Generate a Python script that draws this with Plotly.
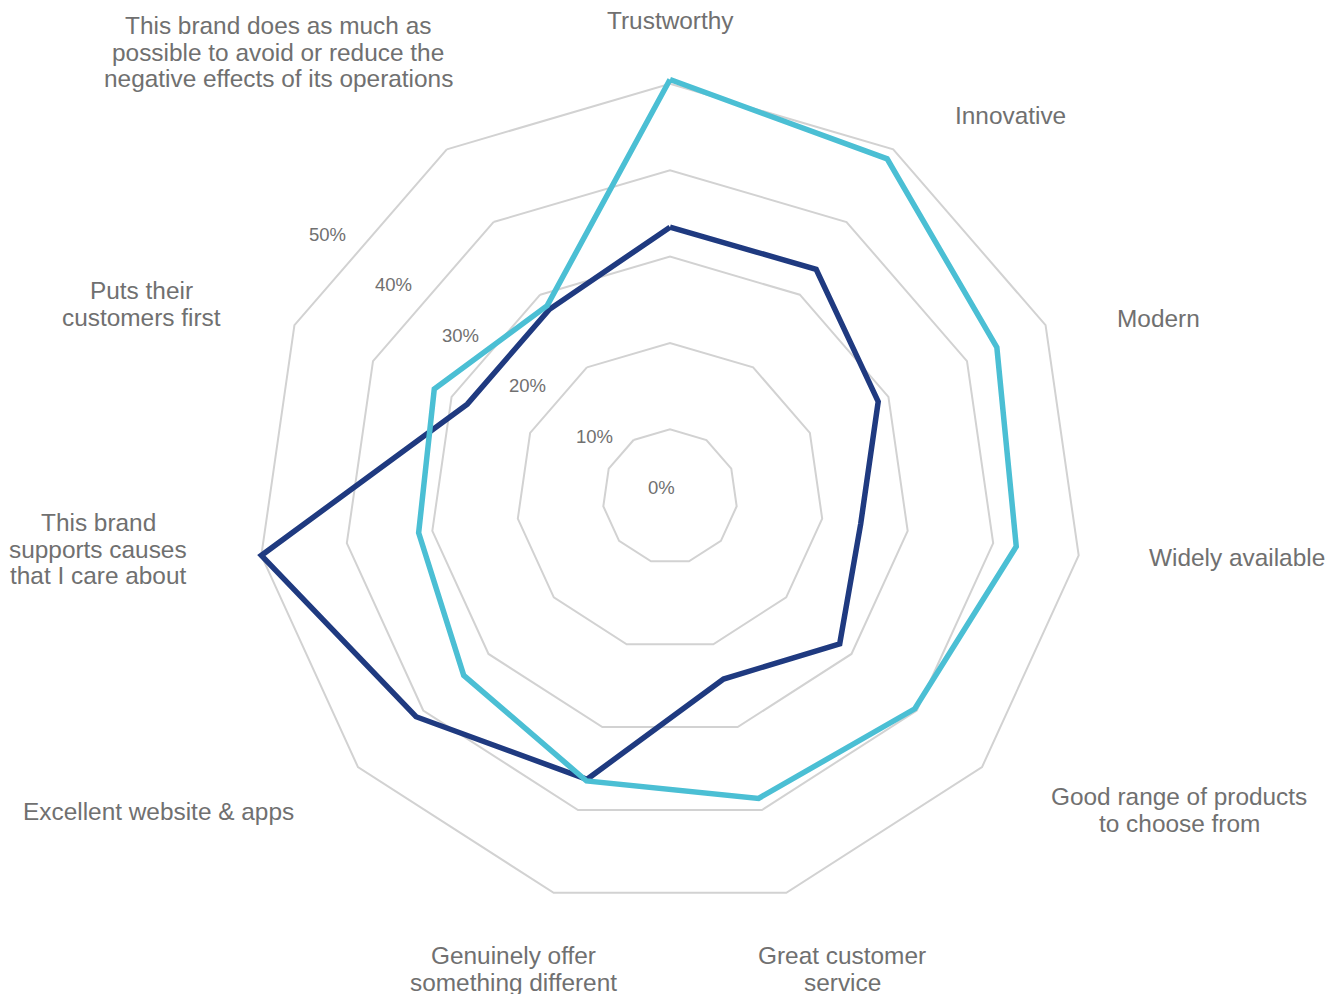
import plotly.graph_objects as go

# Attribute statements, clockwise from the top
categories = [
    "Trustworthy",
    "Innovative",
    "Modern",
    "Widely available",
    "Good range of products<br>to choose from",
    "Great customer<br>service",
    "Genuinely offer<br>something different",
    "Excellent website & apps",
    "This brand<br>supports causes<br>that I care about",
    "Puts their<br>customers first",
    "This brand does as much as<br>possible to avoid or reduce the<br>negative effects of its operations",
]

# Share of respondents agreeing (%)
series_light = [50.5, 48.7, 43.8, 42.7, 39.7, 38.6, 36.5, 33.8, 31.6, 32.2, 28.5]
series_dark = [33.4, 33.5, 28.7, 24.5, 28.2, 24.2, 36.3, 41.1, 50.0, 28.0, 28.0]

radial_ticks = [0, 10, 20, 30, 40, 50]
radial_tick_labels = ["0%", "10%", "20%", "30%", "40%", "50%"]

# ---- layout constants ----
W, H = 1343, 994
CX, CY = 670, 496.7          # chart centre in pixels
R_MIN, R_MAX = 2.2, 51       # radial axis range
PX_PER_UNIT = 8.6375
RADIUS = (R_MAX - R_MIN) * PX_PER_UNIT

LIGHT = "#4bbfd4"
DARK = "#1f3a80"
GRID = "#d2d2d2"
TEXT = "#707070"
FONT = "Liberation Sans, Arial, Helvetica, sans-serif"


def closed(vals):
    return list(vals) + [vals[0]]


fig = go.Figure()
fig.add_trace(go.Scatterpolar(
    r=closed(series_dark), theta=closed(categories), mode="lines",
    line=dict(color=DARK, width=5.5), name="Brand B", hoverinfo="skip",
))
fig.add_trace(go.Scatterpolar(
    r=closed(series_light), theta=closed(categories), mode="lines",
    line=dict(color=LIGHT, width=5.5), name="Brand A", hoverinfo="skip",
))

# Category labels, one annotation per line for tight line spacing
label_pos = [
    (670, 21), (1010, 116), (1158, 318), (1237, 557), (1179, 810),
    (842, 969), (513, 969), (158, 811), (98, 549), (141, 304), (278, 52),
]
LINE_GAP = 26.5
annotations = []
for text, (px, py) in zip(categories, label_pos):
    lines = text.split("<br>")
    n = len(lines)
    for i, line in enumerate(lines):
        y = py + (i - (n - 1) / 2) * LINE_GAP
        annotations.append(dict(
            x=px / W, y=1 - y / H, xref="paper", yref="paper",
            text=line, showarrow=False, xanchor="center", yanchor="middle",
            font=dict(family=FONT, size=24.4, color=TEXT),
        ))

# Radial scale labels laid out along a diagonal from the centre
LBL_X0, LBL_Y0 = 661, 487
LBL_DX, LBL_DY = -6.68, -5.06   # pixels per percentage point
for v, t in zip(radial_ticks, radial_tick_labels):
    annotations.append(dict(
        x=(LBL_X0 + LBL_DX * v) / W, y=1 - (LBL_Y0 + LBL_DY * v) / H,
        xref="paper", yref="paper", text=t, showarrow=False,
        xanchor="center", yanchor="middle",
        font=dict(family=FONT, size=18.5, color=TEXT),
    ))

fig.update_layout(
    width=W, height=H,
    margin=dict(l=0, r=0, t=0, b=0),
    paper_bgcolor="white", plot_bgcolor="white",
    showlegend=False,
    annotations=annotations,
    polar=dict(
        domain=dict(
            x=[(CX - RADIUS) / W, (CX + RADIUS) / W],
            y=[(H - CY - RADIUS) / H, (H - CY + RADIUS) / H],
        ),
        bgcolor="white",
        gridshape="linear",
        radialaxis=dict(
            range=[R_MIN, R_MAX],
            tickvals=radial_ticks[1:],
            showticklabels=False, ticks="",
            showline=False,
            gridcolor=GRID, gridwidth=1.6,
        ),
        angularaxis=dict(
            direction="clockwise", rotation=90,
            showgrid=False, showline=False,
            showticklabels=False, ticks="",
        ),
    ),
)

fig.write_html("out.html")
